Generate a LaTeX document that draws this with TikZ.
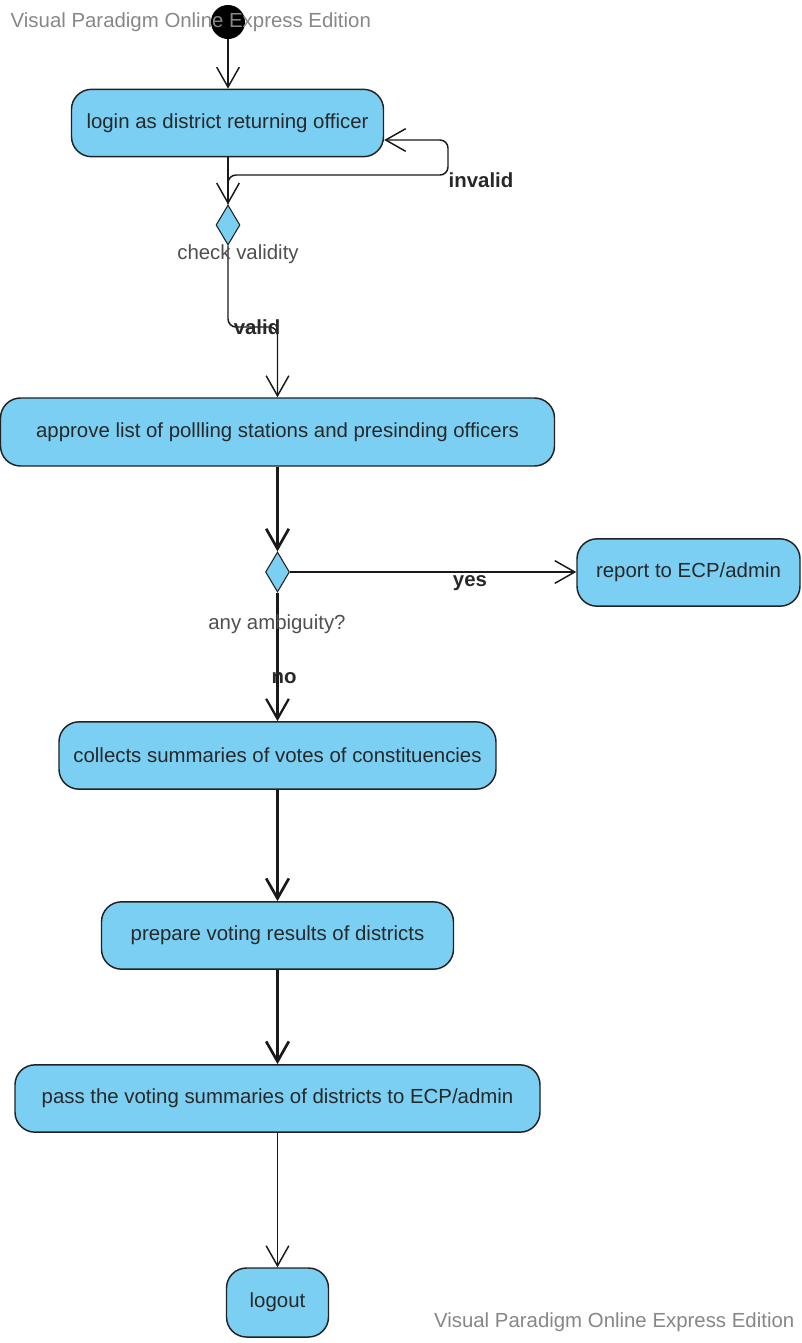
\documentclass[tikz,border=0pt]{standalone}
\usepackage{fontspec}
\setmainfont{Liberation Sans}
\usetikzlibrary{arrows.meta,shapes.geometric}
\definecolor{actfill}{RGB}{122,207,243}
\definecolor{actline}{RGB}{34,34,34}
\definecolor{wmgray}{RGB}{135,135,135}
\definecolor{lblgray}{RGB}{80,80,80}
\definecolor{txtdark}{RGB}{40,40,40}
\begin{document}
\begin{tikzpicture}[x=0.75pt,y=-0.75pt,
  font=\fontsize{15.3}{18}\selectfont,
  action/.style={draw=actline, line width=1.1pt, fill=actfill, rounded corners=15pt,
    text=txtdark, inner sep=0pt, minimum height=50.5pt},
  decision/.style={diamond, draw=actline, line width=0.8pt, fill=actfill,
    minimum width=18pt, minimum height=30pt, inner sep=0pt},
  flow/.style={draw=black!90, line width=1.1pt, -{Straight Barb[length=15pt,width=17pt]}},
  heavy/.style={flow, line width=2pt},
  medium/.style={flow, line width=1.7pt},
  guard/.style={font=\fontsize{15.3}{18}\selectfont\bfseries, text=txtdark},
  note/.style={text=lblgray},
  watermark/.style={text=wmgray}]

\fill[white] (0,0) rectangle (801,1343);
\useasboundingbox (0,0) rectangle (801,1343);

% initial state
\node[circle, fill=black, minimum size=25.5pt, inner sep=0pt] (start) at (228,22) {};

% activities
\node[action, minimum width=234pt] (login) at (227.5,123) {login as district returning officer};
\node[decision] (d1) at (228,225) {};
\node[action, minimum width=415.5pt, minimum height=51pt] (approve) at (277.5,432) {approve list of pollling stations and presinding officers};
\node[decision] (d2) at (277.5,572) {};
\node[action, minimum width=167.25pt] (report) at (688.5,572.5) {report to ECP/admin};
\node[action, minimum width=327.75pt] (collects) at (277.5,755.5) {collects summaries of votes of constituencies};
\node[action, minimum width=264pt] (prepare) at (277.5,935.5) {prepare voting results of districts};
\node[action, minimum width=393.75pt] (pass) at (277.5,1098.5) {pass the voting summaries of districts to ECP/admin};
\node[action, minimum width=76.5pt, minimum height=51.75pt] (logout) at (277.5,1302.5) {logout};

% helper points for bent connectors
\coordinate (invcorner) at (448,175);
\coordinate (invend) at ([yshift=-12.75pt]login.east);
\coordinate (vbend) at (277.5,327);

% connectors
\draw[flow] (start) -- (login.north -| start);
\draw[flow] (login.south -| d1) -- (d1.north);
\draw[flow, rounded corners=6pt] (d1.north) |- (invcorner) |- (invend);
\draw[flow, rounded corners=6pt] (d1.south) |- (vbend) -- (approve.north);
\draw[heavy] (approve.south) -- (d2.north);
\draw[flow] (d2.east) -- (report.west |- d2.east);
\draw[medium] (d2.south) -- (collects.north);
\draw[heavy] (collects.south) -- (prepare.north);
\draw[heavy] (prepare.south) -- (pass.north);
\draw[flow] (pass.south) -- (logout.north);

% guards and decision labels
\node[guard] (lblinvalid) at (481,180) {invalid};
\node[guard] (lblvalid) at (257,327) {valid};
\node[guard] (lblyes) at (470,583) {yes};
\node[guard] (lblno) at (284,678) {no};
\node[note] (lblcheck) at (238,254) {check validity};
\node[note] (lblamb) at (277,624) {any ambiguity?};

% edition marks
\node[watermark, anchor=west] (wmtop) at (6,22) {Visual Paradigm Online Express Edition};
\node[watermark, anchor=east] (wmbottom) at (799,1322) {Visual Paradigm Online Express Edition};
\end{tikzpicture}
\end{document}
